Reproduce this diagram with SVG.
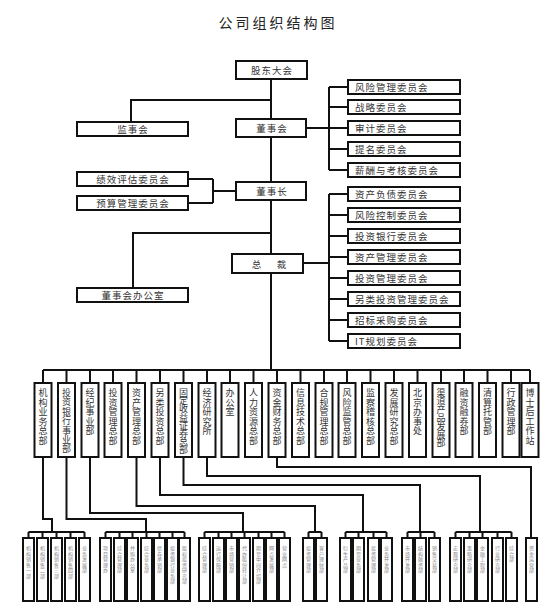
<svg xmlns="http://www.w3.org/2000/svg" width="550" height="607" viewBox="0 0 550 607">
<style>
text{font-family:"Noto Sans CJK SC","Noto Sans",sans-serif;fill:#333}
.title{font-size:14px;letter-spacing:3px;fill:#222;text-anchor:middle}
.b{fill:#fff;stroke:#111;stroke-width:2}
.t{font-size:9.5px;letter-spacing:1px;dominant-baseline:central}
.c{text-anchor:middle}
.vt{font-size:9px;text-anchor:middle}
.bt{font-size:5px;text-anchor:middle;fill:#888}
.ln{fill:none;stroke:#111;stroke-width:2}
</style>
<rect width="550" height="607" fill="#fff"/>
<text class="title" x="278" y="28">公司组织结构图</text>

<g id="connectors" class="ln">
<path d="M271 79V119M271 137V182M271 200V254M271 273V370"/>
<path d="M271 100H131V122"/>
<path d="M271 233H133V288"/>
<path d="M306 128H329M329 87V170M329 87H348M329 107H348M329 128H348M329 149H348M329 170H348"/>
<path d="M303 263H329M329 194V341M329 194H348M329 215H348M329 236H348M329 257H348M329 278H348M329 299H348M329 320H348M329 341H348"/>
<path d="M236 191H213M213 179V203M188 179H213M188 203H213"/>
<path d="M43 370H530M43 370V383M66.5 370V383M90 370V383M113 370V383M136.5 370V383M160 370V383M183.5 370V383M207 370V383M230 370V383M253.5 370V383M277 370V383M300.5 370V383M324 370V383M347 370V383M370.5 370V383M394 370V383M417.5 370V383M441 370V383M464 370V383M487.5 370V383M511 370V383M530 370V383"/>
<path d="M43 457V519H52V532M66.5 457V519H146V532M90 457V513H243V532M136.5 457V506H315V532M160 457V495H363V532M183.5 457V485H420V532M207 457V476H480V532M277 457V467H531V538"/>
<path d="M28.5 532H84.5M28.5 532V538M42.5 532V538M56.5 532V538M70.5 532V538M84.5 532V538"/>
<path d="M105.5 532H184.5M105.5 532V538M119.5 532V538M132.5 532V538M146.5 532V538M159.5 532V538M172.5 532V538M184.5 532V538"/>
<path d="M204.5 532H284.5M204.5 532V538M218.5 532V538M231.5 532V538M244.5 532V538M258.5 532V538M271.5 532V538M284.5 532V538"/>
<path d="M308.5 532H321.5M308.5 532V538M321.5 532V538"/>
<path d="M345.5 532H386.5M345.5 532V538M358.5 532V538M373.5 532V538M386.5 532V538"/>
<path d="M407.5 532H434.5M407.5 532V538M420.5 532V538M434.5 532V538"/>
<path d="M455.5 532H511.5M455.5 532V538M469.5 532V538M482.5 532V538M497.5 532V538M511.5 532V538"/>
</g>

<g id="n-gudong"><rect class="b" x="236" y="61" width="71" height="18"/><text class="t c" x="272" y="70">股东大会</text></g>
<g id="n-dongshihui"><rect class="b" x="236" y="119" width="70" height="18"/><text class="t c" x="272" y="128">董事会</text></g>
<g id="n-dongshizhang"><rect class="b" x="236" y="182" width="70" height="18"/><text class="t c" x="272" y="191">董事长</text></g>
<g id="n-zongcai"><rect class="b" x="232" y="254" width="71" height="19"/><text class="t c" y="263.5"><tspan x="257">总</tspan><tspan x="282">裁</tspan></text></g>
<g id="n-jianshihui"><rect class="b" x="77" y="122" width="111" height="14"/><text class="t c" x="133" y="129">监事会</text></g>
<g id="n-jixiao"><rect class="b" x="77" y="172" width="111" height="14"/><text class="t c" x="133" y="179">绩效评估委员会</text></g>
<g id="n-yusuan"><rect class="b" x="77" y="196" width="111" height="14"/><text class="t c" x="133" y="203">预算管理委员会</text></g>
<g id="n-bangongshi"><rect class="b" x="77" y="288" width="111" height="14"/><text class="t c" x="133" y="295">董事会办公室</text></g>

<g id="n-a1"><rect class="b" x="348" y="80" width="112" height="14"/><text class="t" x="355" y="87">风险管理委员会</text></g>
<g id="n-a2"><rect class="b" x="348" y="100" width="112" height="14"/><text class="t" x="355" y="107">战略委员会</text></g>
<g id="n-a3"><rect class="b" x="348" y="121" width="112" height="14"/><text class="t" x="355" y="128">审计委员会</text></g>
<g id="n-a4"><rect class="b" x="348" y="142" width="112" height="14"/><text class="t" x="355" y="149">提名委员会</text></g>
<g id="n-a5"><rect class="b" x="348" y="163" width="112" height="14"/><text class="t" x="355" y="170">薪酬与考核委员会</text></g>

<g id="n-b1"><rect class="b" x="348" y="187" width="112" height="14"/><text class="t" x="355" y="194">资产负债委员会</text></g>
<g id="n-b2"><rect class="b" x="348" y="208" width="112" height="14"/><text class="t" x="355" y="215">风险控制委员会</text></g>
<g id="n-b3"><rect class="b" x="348" y="229" width="112" height="14"/><text class="t" x="355" y="236">投资银行委员会</text></g>
<g id="n-b4"><rect class="b" x="348" y="250" width="112" height="14"/><text class="t" x="355" y="257">资产管理委员会</text></g>
<g id="n-b5"><rect class="b" x="348" y="271" width="112" height="14"/><text class="t" x="355" y="278">投资管理委员会</text></g>
<g id="n-b6"><rect class="b" x="348" y="292" width="112" height="14"/><text class="t" x="355" y="299">另类投资管理委员会</text></g>
<g id="n-b7"><rect class="b" x="348" y="313" width="112" height="14"/><text class="t" x="355" y="320">招标采购委员会</text></g>
<g id="n-b8"><rect class="b" x="348" y="334" width="112" height="14"/><text class="t" x="355" y="341">IT规划委员会</text></g>

<g id="n-m1"><rect class="b" x="34.5" y="383" width="17" height="74"/><text class="vt" x="43 43 43 43 43 43" y="396 405.6 415.2 424.8 434.4 444">机构业务总部</text></g>
<g id="n-m2"><rect class="b" x="58" y="383" width="17" height="74"/><text class="vt" x="66.5 66.5 66.5 66.5 66.5 66.5 66.5" y="396 405.4 414.8 424.2 433.6 443 452.4">投资银行事业部</text></g>
<g id="n-m3"><rect class="b" x="81.5" y="383" width="17" height="74"/><text class="vt" x="90 90 90 90 90" y="396 405.6 415.2 424.8 434.4">经纪事业部</text></g>
<g id="n-m4"><rect class="b" x="104.5" y="383" width="17" height="74"/><text class="vt" x="113 113 113 113 113 113" y="396 405.6 415.2 424.8 434.4 444">投资管理总部</text></g>
<g id="n-m5"><rect class="b" x="128" y="383" width="17" height="74"/><text class="vt" x="136.5 136.5 136.5 136.5 136.5 136.5" y="396 405.6 415.2 424.8 434.4 444">资产管理总部</text></g>
<g id="n-m6"><rect class="b" x="151.5" y="383" width="17" height="74"/><text class="vt" x="160 160 160 160 160 160" y="396 405.6 415.2 424.8 434.4 444">另类投资总部</text></g>
<g id="n-m7"><rect class="b" x="175" y="383" width="17" height="74"/><text class="vt" x="183.5 183.5 183.5 183.5 183.5 183.5 183.5 183.5" y="396 404.2 412.4 420.6 428.8 437 445.2 453.4">固定收益证券总部</text></g>
<g id="n-m8"><rect class="b" x="198.5" y="383" width="17" height="74"/><text class="vt" x="207 207 207 207 207" y="396 405.6 415.2 424.8 434.4">经济研究所</text></g>
<g id="n-m9"><rect class="b" x="221.5" y="383" width="17" height="74"/><text class="vt" x="230 230 230" y="396 405.6 415.2">办公室</text></g>
<g id="n-m10"><rect class="b" x="245" y="383" width="17" height="74"/><text class="vt" x="253.5 253.5 253.5 253.5 253.5 253.5" y="396 405.6 415.2 424.8 434.4 444">人力资源总部</text></g>
<g id="n-m11"><rect class="b" x="268.5" y="383" width="17" height="74"/><text class="vt" x="277 277 277 277 277 277" y="396 405.6 415.2 424.8 434.4 444">资金财务总部</text></g>
<g id="n-m12"><rect class="b" x="292" y="383" width="17" height="74"/><text class="vt" x="300.5 300.5 300.5 300.5 300.5 300.5" y="396 405.6 415.2 424.8 434.4 444">信息技术总部</text></g>
<g id="n-m13"><rect class="b" x="315.5" y="383" width="17" height="74"/><text class="vt" x="324 324 324 324 324 324" y="396 405.6 415.2 424.8 434.4 444">合规管理总部</text></g>
<g id="n-m14"><rect class="b" x="338.5" y="383" width="17" height="74"/><text class="vt" x="347 347 347 347 347 347" y="396 405.6 415.2 424.8 434.4 444">风险监管总部</text></g>
<g id="n-m15"><rect class="b" x="362" y="383" width="17" height="74"/><text class="vt" x="370.5 370.5 370.5 370.5 370.5 370.5" y="396 405.6 415.2 424.8 434.4 444">监察稽核总部</text></g>
<g id="n-m16"><rect class="b" x="385.5" y="383" width="17" height="74"/><text class="vt" x="394 394 394 394 394 394" y="396 405.6 415.2 424.8 434.4 444">发展研究总部</text></g>
<g id="n-m17"><rect class="b" x="409" y="383" width="17" height="74"/><text class="vt" x="417.5 417.5 417.5 417.5 417.5" y="396 405.6 415.2 424.8 434.4">北京办事处</text></g>
<g id="n-m18"><rect class="b" x="432.5" y="383" width="17" height="74"/><text class="vt" x="441 441 441 441 441 441 441" y="396 404.4 412.8 421.2 429.6 438 446.4">渠道产品发展部</text></g>
<g id="n-m19"><rect class="b" x="455.5" y="383" width="17" height="74"/><text class="vt" x="464 464 464 464 464" y="396 405.6 415.2 424.8 434.4">融资融券部</text></g>
<g id="n-m20"><rect class="b" x="479" y="383" width="17" height="74"/><text class="vt" x="487.5 487.5 487.5 487.5 487.5" y="396 405.6 415.2 424.8 434.4">清算托管部</text></g>
<g id="n-m21"><rect class="b" x="502.5" y="383" width="17" height="74"/><text class="vt" x="511 511 511 511 511" y="396 405.6 415.2 424.8 434.4">行政管理部</text></g>
<g id="n-m22"><rect class="b" x="521.5" y="383" width="17" height="74"/><text class="vt" x="530 530 530 530 530 530" y="396 405.6 415.2 424.8 434.4 444">博士后工作站</text></g>

<g id="n-s1"><rect class="b" x="23" y="538" width="11" height="63"/><text class="bt" x="28.5 28.5 28.5 28.5 28.5 28.5" y="550 555.5 561 566.5 572 577.5">机构销售一部</text></g>
<g id="n-s2"><rect class="b" x="37" y="538" width="11" height="63"/><text class="bt" x="42.5 42.5 42.5 42.5 42.5 42.5" y="550 555.5 561 566.5 572 577.5">机构销售二部</text></g>
<g id="n-s3"><rect class="b" x="51" y="538" width="11" height="63"/><text class="bt" x="56.5 56.5 56.5 56.5 56.5 56.5" y="550 555.5 561 566.5 572 577.5">机构销售三部</text></g>
<g id="n-s4"><rect class="b" x="65" y="538" width="11" height="63"/><text class="bt" x="70.5 70.5 70.5 70.5 70.5 70.5" y="550 555.5 561 566.5 572 577.5">机构销售四部</text></g>
<g id="n-s5"><rect class="b" x="79" y="538" width="11" height="63"/><text class="bt" x="84.5 84.5 84.5 84.5 84.5" y="550 555.5 561 566.5 572">业务发展部</text></g>

<g id="n-s6"><rect class="b" x="100" y="538" width="11" height="63"/><text class="bt" x="105.5 105.5 105.5 105.5 105.5" y="550 555.5 561 566.5 572">项目管理办</text></g>
<g id="n-s7"><rect class="b" x="114" y="538" width="11" height="63"/><text class="bt" x="119.5 119.5 119.5 119.5 119.5" y="550 555.5 561 566.5 572">综合管理部</text></g>
<g id="n-s8"><rect class="b" x="127" y="538" width="11" height="63"/><text class="bt" x="132.5 132.5 132.5 132.5 132.5" y="550 555.5 561 566.5 572">并购办公室</text></g>
<g id="n-s9"><rect class="b" x="141" y="538" width="11" height="63"/><text class="bt" x="146.5 146.5 146.5 146.5 146.5" y="550 555.5 561 566.5 572">综合业务部</text></g>
<g id="n-s10"><rect class="b" x="154" y="538" width="11" height="63"/><text class="bt" x="159.5 159.5 159.5 159.5 159.5" y="550 555.5 561 566.5 572">债券承销部</text></g>
<g id="n-s11"><rect class="b" x="167" y="538" width="11" height="63"/><text class="bt" x="172.5 172.5 172.5 172.5 172.5 172.5 172.5" y="550 555.5 561 566.5 572 577.5 583">投资银行业务部</text></g>
<g id="n-s12"><rect class="b" x="179" y="538" width="11" height="63"/><text class="bt" x="184.5 184.5 184.5 184.5 184.5 184.5 184.5" y="550 555.5 561 566.5 572 577.5 583">股权投资研究部</text></g>

<g id="n-s13"><rect class="b" x="199" y="538" width="11" height="63"/><text class="bt" x="204.5 204.5 204.5 204.5 204.5" y="550 555.5 561 566.5 572">综合管理部</text></g>
<g id="n-s14"><rect class="b" x="213" y="538" width="11" height="63"/><text class="bt" x="218.5 218.5 218.5 218.5 218.5" y="550 555.5 561 566.5 572">运行保障部</text></g>
<g id="n-s15"><rect class="b" x="226" y="538" width="11" height="63"/><text class="bt" x="231.5 231.5 231.5 231.5 231.5" y="550 555.5 561 566.5 572">市场营销部</text></g>
<g id="n-s16"><rect class="b" x="239" y="538" width="11" height="63"/><text class="bt" x="244.5 244.5 244.5 244.5 244.5 244.5 244.5" y="550 555.5 561 566.5 572 577.5 583">代办股份转让部</text></g>
<g id="n-s17"><rect class="b" x="253" y="538" width="11" height="63"/><text class="bt" x="258.5 258.5 258.5 258.5 258.5 258.5 258.5" y="550 555.5 561 566.5 572 577.5 583">期货中间介绍部</text></g>
<g id="n-s18"><rect class="b" x="266" y="538" width="11" height="63"/><text class="bt" x="271.5 271.5 271.5 271.5 271.5" y="550 555.5 561 566.5 572">网点发展部</text></g>
<g id="n-s19"><rect class="b" x="279" y="538" width="11" height="63"/><text class="bt" x="284.5 284.5 284.5 284.5" y="550 555.5 561 566.5">营业网点</text></g>

<g id="n-s20"><rect class="b" x="303" y="538" width="11" height="63"/><text class="bt" x="308.5 308.5 308.5 308.5 308.5" y="550 555.5 561 566.5 572">投资管理部</text></g>
<g id="n-s21"><rect class="b" x="316" y="538" width="11" height="63"/><text class="bt" x="321.5 321.5 321.5 321.5 321.5" y="550 555.5 561 566.5 572">客户理财部</text></g>

<g id="n-s22"><rect class="b" x="340" y="538" width="11" height="63"/><text class="bt" x="345.5 345.5 345.5 345.5 345.5" y="550 555.5 561 566.5 572">衍生产品部</text></g>
<g id="n-s23"><rect class="b" x="353" y="538" width="11" height="63"/><text class="bt" x="358.5 358.5 358.5 358.5 358.5" y="550 555.5 561 566.5 572">期货业务部</text></g>
<g id="n-s24"><rect class="b" x="368" y="538" width="11" height="63"/><text class="bt" x="373.5 373.5 373.5 373.5 373.5" y="550 555.5 561 566.5 572">投资管理部</text></g>
<g id="n-s25"><rect class="b" x="381" y="538" width="11" height="63"/><text class="bt" x="386.5 386.5 386.5 386.5 386.5" y="550 555.5 561 566.5 572">业务开发部</text></g>

<g id="n-s26"><rect class="b" x="402" y="538" width="11" height="63"/><text class="bt" x="407.5 407.5 407.5 407.5 407.5" y="550 555.5 561 566.5 572">市场开发部</text></g>
<g id="n-s27"><rect class="b" x="415" y="538" width="11" height="63"/><text class="bt" x="420.5 420.5 420.5 420.5 420.5" y="550 555.5 561 566.5 572">结构融资部</text></g>
<g id="n-s28"><rect class="b" x="429" y="538" width="11" height="63"/><text class="bt" x="434.5 434.5 434.5 434.5 434.5" y="550 555.5 561 566.5 572">销售交易部</text></g>

<g id="n-s29"><rect class="b" x="450" y="538" width="11" height="63"/><text class="bt" x="455.5 455.5 455.5 455.5 455.5" y="550 555.5 561 566.5 572">宏观研究部</text></g>
<g id="n-s30"><rect class="b" x="464" y="538" width="11" height="63"/><text class="bt" x="469.5 469.5 469.5 469.5 469.5" y="550 555.5 561 566.5 572">策略研究部</text></g>
<g id="n-s31"><rect class="b" x="477" y="538" width="11" height="63"/><text class="bt" x="482.5 482.5 482.5 482.5 482.5" y="550 555.5 561 566.5 572">金融工程部</text></g>
<g id="n-s32"><rect class="b" x="492" y="538" width="11" height="63"/><text class="bt" x="497.5 497.5 497.5 497.5 497.5" y="550 555.5 561 566.5 572">行业研究部</text></g>
<g id="n-s33"><rect class="b" x="506" y="538" width="11" height="63"/><text class="bt" x="511.5 511.5 511.5" y="550 555.5 561">综合部</text></g>

<g id="n-s34"><rect class="b" x="526" y="538" width="11" height="63"/><text class="bt" x="531.5 531.5 531.5 531.5 531.5" y="550 555.5 561 566.5 572">资金运营部</text></g>
</svg>
